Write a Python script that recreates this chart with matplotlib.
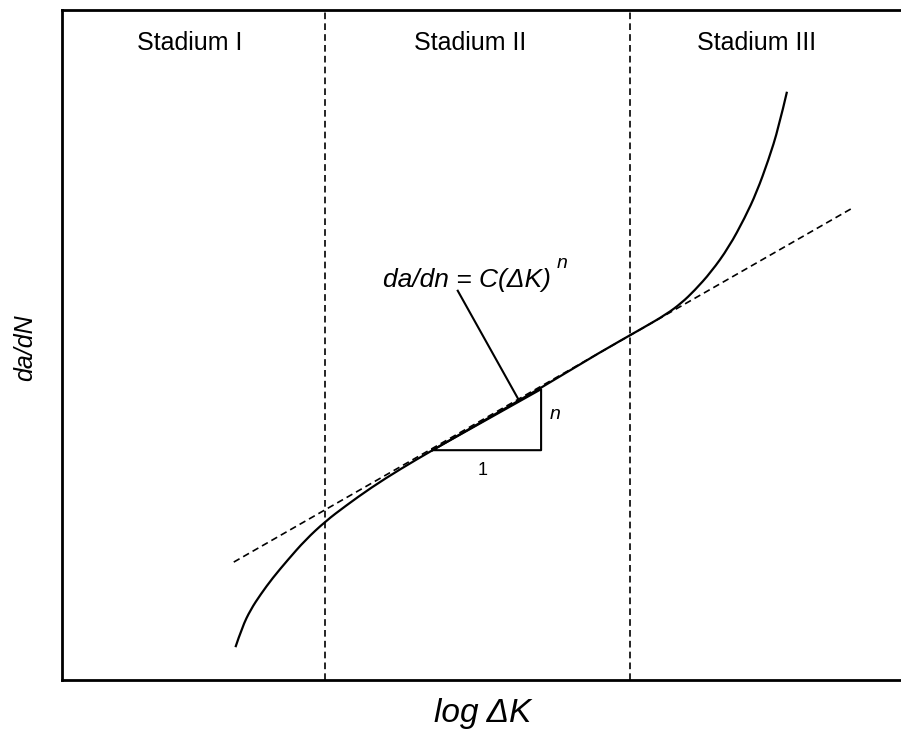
import matplotlib
matplotlib.use('Agg')
import matplotlib.pyplot as plt
from matplotlib.path import Path
from matplotlib.patches import PathPatch

plt.rcParams['font.family'] = ['Liberation Sans', 'DejaVu Sans']

# crack growth curve (log dK, log da/dN), arbitrary units
curve_x = [2.06, 2.14, 2.24, 2.36, 2.50, 2.68, 2.89, 3.13, 3.37, 3.67, 4.02, 4.40,
           4.98, 5.69, 6.40, 6.88, 7.18, 7.36, 7.51, 7.71, 7.92, 8.11, 8.25, 8.39,
           8.51, 8.61]
curve_y = [0.49, 0.79, 1.05, 1.28, 1.52, 1.79, 2.09, 2.37, 2.60, 2.87, 3.15, 3.43,
           3.85, 4.36, 4.90, 5.24, 5.46, 5.63, 5.81, 6.09, 6.46, 6.90, 7.28, 7.76,
           8.24, 8.78]

# Paris law tangent
paris_x = [2.04, 9.41]
paris_y = [1.76, 7.06]

# stage boundaries
stage_bounds = [3.12, 6.75]
stage_names = ["Stadium I", "Stadium II", "Stadium III"]
stage_label_x = [1.52, 4.85, 8.25]

# slope triangle
tri_x = [4.40, 5.69, 5.69]
tri_y = [3.43, 3.43, 4.34]

fig = plt.figure(figsize=(9.01, 7.31), dpi=100)
ax = fig.add_axes([62 / 901, 51 / 731, 842 / 901, 670 / 731])
ax.set_xlim(0, 10)
ax.set_ylim(0, 10)

for b in stage_bounds:
    ax.axvline(b, color='black', lw=1.2, dashes=(4, 2.5))

ax.plot(paris_x, paris_y, color='black', lw=1.2, dashes=(4, 2.5))

# smooth the curve: quadratic b-spline through the read points
pts = list(zip(curve_x, curve_y))
verts = [pts[0]]
codes = [Path.MOVETO]
for i in range(1, len(pts) - 1):
    mid = ((pts[i][0] + pts[i + 1][0]) / 2, (pts[i][1] + pts[i + 1][1]) / 2)
    if i == len(pts) - 2:
        mid = pts[-1]
    verts += [pts[i], mid]
    codes += [Path.CURVE3, Path.CURVE3]
ax.add_patch(PathPatch(Path(verts, codes), fill=False, edgecolor='black', lw=1.6))

# triangle
ax.plot(tri_x + [tri_x[0]], tri_y + [tri_y[0]], color='black', lw=1.5)
ax.text((tri_x[0] + tri_x[1]) / 2 - 0.05, tri_y[0] - 0.17, "1", ha='center', va='top', fontsize=13)
ax.text(tri_x[2] + 0.1, (tri_y[1] + tri_y[2]) / 2 + 0.08, "n", ha='left', va='center',
        fontsize=14, style='italic')

# leader line + formula
ax.plot([4.70, 5.42], [5.81, 4.19], color='black', lw=1.5)
ax.text(3.81, 5.87, "da/dn = C(ΔK)", ha='left', va='baseline',
        fontsize=19, style='italic')
ax.text(5.87, 6.15, "n", ha='left', va='baseline', fontsize=14, style='italic')

for name, x in zip(stage_names, stage_label_x):
    ax.text(x, 9.51, name, ha='center', va='center', fontsize=18)

ax.set_xticks([])
ax.set_yticks([])
for s in ax.spines.values():
    s.set_linewidth(2)

fig.text(483 / 901, 1 - 722 / 731, "log ΔK", ha='center', va='baseline',
         fontsize=24, style='italic')
fig.text(25 / 901, 1 - 348 / 731, "da/dN", ha='center', va='center', rotation=90,
         fontsize=18, style='italic')

fig.savefig("out.png", dpi=100)
